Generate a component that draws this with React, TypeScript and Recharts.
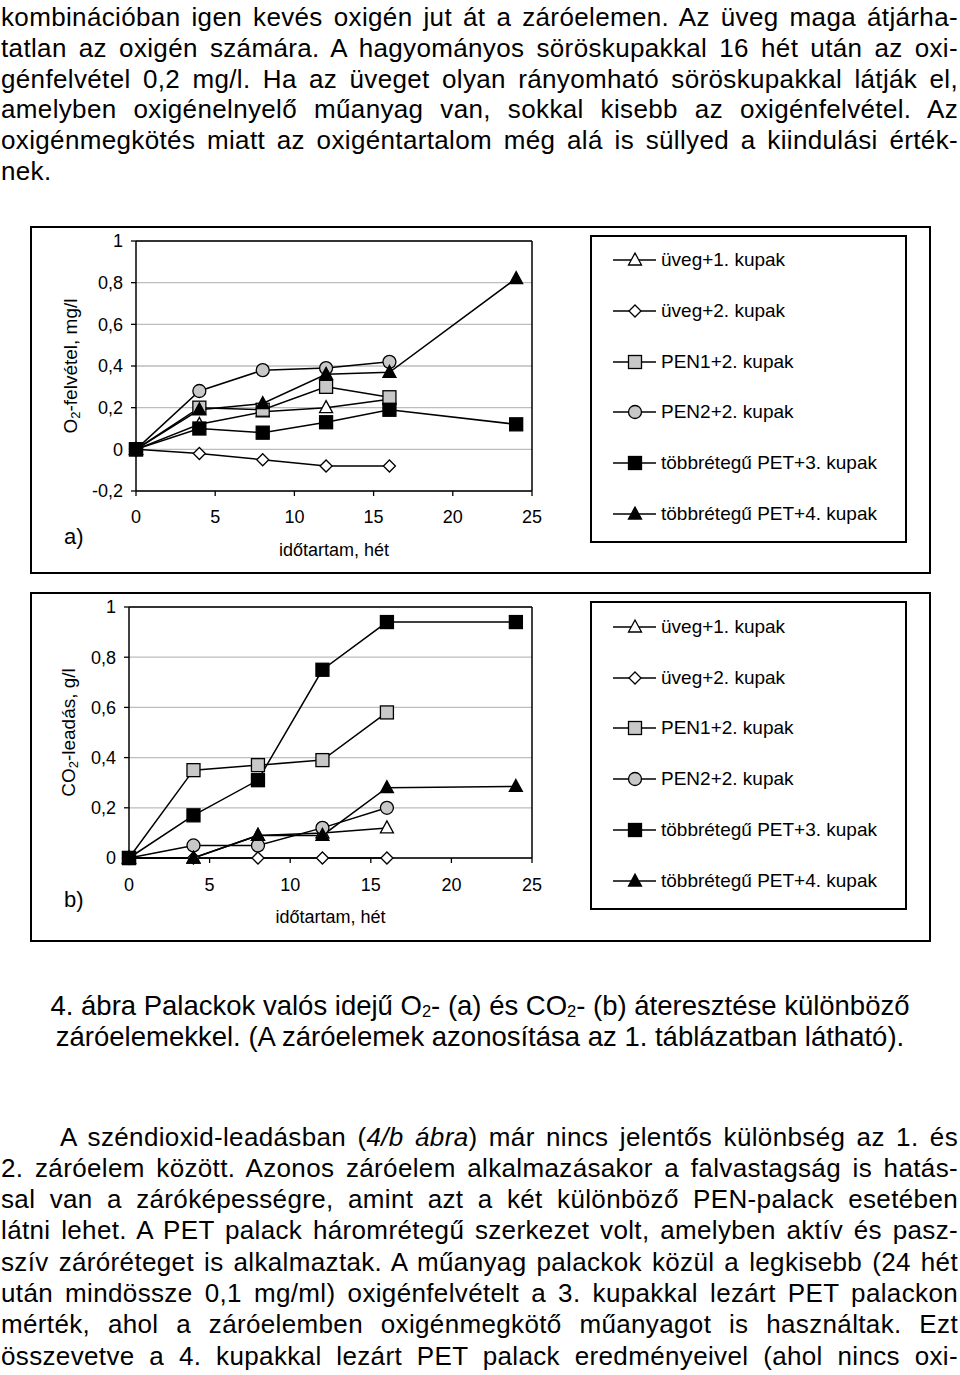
import React from 'react';
import { LineChart, Line, XAxis, YAxis, CartesianGrid, ReferenceLine, Legend } from 'recharts';

const FONT = '"Liberation Sans", Arial, Helvetica, sans-serif';

// ---- data ----
const weeks = [0, 4, 8, 12, 16, 24];
const xTicks = [0, 5, 10, 15, 20, 25];
const yTicksA = [-0.2, 0, 0.2, 0.4, 0.6, 0.8, 1];
const yTicksB = [0, 0.2, 0.4, 0.6, 0.8, 1];
const seriesNames = [
  'üveg+1. kupak',
  'üveg+2. kupak',
  'PEN1+2. kupak',
  'PEN2+2. kupak',
  'többrétegű PET+3. kupak',
  'többrétegű PET+4. kupak',
];

// a) O2 uptake, mg/l
const o2Uveg1 = [0, 0.12, 0.18, 0.2, 0.24, null];
const o2Uveg2 = [0, -0.02, -0.05, -0.08, -0.08, null];
const o2Pen1 = [0, 0.2, 0.19, 0.3, 0.25, null];
const o2Pen2 = [0, 0.28, 0.38, 0.39, 0.42, null];
const o2Pet3 = [0, 0.1, 0.08, 0.13, 0.19, 0.12];
const o2Pet4 = [0, 0.19, 0.22, 0.36, 0.37, 0.82];

// b) CO2 release, g/l
const co2Uveg1 = [0, 0, 0.09, 0.1, 0.12, null];
const co2Uveg2 = [0, 0, 0, 0, 0, null];
const co2Pen1 = [0, 0.35, 0.37, 0.39, 0.58, null];
const co2Pen2 = [0, 0.05, 0.05, 0.12, 0.2, null];
const co2Pet3 = [0, 0.17, 0.31, 0.75, 0.94, 0.94];
const co2Pet4 = [0, 0, 0.09, 0.09, 0.28, 0.285];

// ---- text ----
const topLines = [
  'kombinációban igen kevés oxigén jut át a záróelemen. Az üveg maga átjárha-',
  'tatlan az oxigén számára. A hagyományos söröskupakkal 16 hét után az oxi-',
  'génfelvétel 0,2 mg/l. Ha az üveget olyan rányomható söröskupakkal látják el,',
  'amelyben oxigénelnyelő műanyag van, sokkal kisebb az oxigénfelvétel. Az',
  'oxigénmegkötés miatt az oxigéntartalom még alá is süllyed a kiindulási érték-',
  'nek.',
];
const bottomLines = [
  '2. záróelem között. Azonos záróelem alkalmazásakor a falvastagság is hatás-',
  'sal van a záróképességre, amint azt a két különböző PEN-palack esetében',
  'látni lehet. A PET palack háromrétegű szerkezet volt, amelyben aktív és pasz-',
  'szív záróréteget is alkalmaztak. A műanyag palackok közül a legkisebb (24 hét',
  'után mindössze 0,1 mg/ml) oxigénfelvételt a 3. kupakkal lezárt PET palackon',
  'mérték, ahol a záróelemben oxigénmegkötő műanyagot is használtak. Ezt',
  'összevetve a 4. kupakkal lezárt PET palack eredményeivel (ahol nincs oxi-',
];

type Shape = 'triangle' | 'diamond' | 'square' | 'circle';
type SeriesStyle = { key: string; name: string; shape: Shape; fill: string };
const seriesStyles: SeriesStyle[] = [
  { key: 'uveg1', name: seriesNames[0], shape: 'triangle', fill: '#ffffff' },
  { key: 'uveg2', name: seriesNames[1], shape: 'diamond', fill: '#ffffff' },
  { key: 'pen1', name: seriesNames[2], shape: 'square', fill: '#c8c8c8' },
  { key: 'pen2', name: seriesNames[3], shape: 'circle', fill: '#c8c8c8' },
  { key: 'pet3', name: seriesNames[4], shape: 'square', fill: '#000000' },
  { key: 'pet4', name: seriesNames[5], shape: 'triangle', fill: '#000000' },
];

function buildRows(values: (number | null)[][]) {
  return weeks.map((w, i) => {
    const row: any = { week: w };
    seriesStyles.forEach((s, j) => {
      row[s.key] = values[j][i];
    });
    return row;
  });
}
const dataA = buildRows([o2Uveg1, o2Uveg2, o2Pen1, o2Pen2, o2Pet3, o2Pet4]);
const dataB = buildRows([co2Uveg1, co2Uveg2, co2Pen1, co2Pen2, co2Pet3, co2Pet4]);

const fmt = (v: number) => String(Math.round(v * 10) / 10).replace('.', ',');

function Marker({ cx, cy, shape, fill }: { cx: number; cy: number; shape: Shape; fill: string }) {
  const st = { stroke: '#000', strokeWidth: 1.3, fill };
  if (shape === 'triangle')
    return <polygon points={`${cx},${cy - 7} ${cx + 6.5},${cy + 5} ${cx - 6.5},${cy + 5}`} {...st} />;
  if (shape === 'diamond')
    return <polygon points={`${cx},${cy - 6} ${cx + 6},${cy} ${cx},${cy + 6} ${cx - 6},${cy}`} {...st} />;
  if (shape === 'square') return <rect x={cx - 6.5} y={cy - 6.5} width={13} height={13} {...st} />;
  return <circle cx={cx} cy={cy} r={6.5} {...st} />;
}

function YTitle(props: any) {
  const vb = props.viewBox || { x: 0, y: 0, width: 0, height: 0 };
  const cx = vb.x + vb.width - props.off;
  const cy = vb.y + vb.height / 2;
  return (
    <text
      x={cx}
      y={cy}
      transform={`rotate(-90 ${cx} ${cy})`}
      textAnchor="middle"
      dominantBaseline="central"
      fontSize={19}
      fill="#000"
      fontFamily={FONT}
    >
      {props.main}
      <tspan fontSize={13} dy={5}>2</tspan>
      <tspan fontSize={19} dy={-5}>{props.rest}</tspan>
    </text>
  );
}

function XTitle(props: any) {
  const vb = props.viewBox || { x: 0, y: 0, width: 0, height: 0 };
  return (
    <text
      x={vb.x + vb.width / 2}
      y={vb.y + 59}
      textAnchor="middle"
      dominantBaseline="central"
      fontSize={18}
      fill="#000"
      fontFamily={FONT}
    >
      időtartam, hét
    </text>
  );
}

function LegendBox({ height, first, step }: { height: number; first: number; step: number }) {
  return (
    <div
      style={{
        position: 'relative',
        width: 317,
        height,
        border: '2px solid #000',
        boxSizing: 'border-box',
        background: '#fff',
        fontFamily: FONT,
      }}
    >
      {seriesStyles.map((s, i) => (
        <div
          key={s.key}
          style={{
            position: 'absolute',
            left: 0,
            top: first - 2 - 12 + i * step,
            height: 24,
            display: 'flex',
            alignItems: 'center',
            whiteSpace: 'nowrap',
          }}
        >
          <svg width={66} height={24} style={{ display: 'block' }}>
            <line x1={21} x2={64} y1={12} y2={12} stroke="#000" strokeWidth={1.5} />
            <Marker cx={43} cy={12} shape={s.shape} fill={s.fill} />
          </svg>
          <span style={{ marginLeft: 3, fontSize: 19, color: '#000' }}>{s.name}</span>
        </div>
      ))}
    </div>
  );
}

type PanelProps = {
  frameTop: number;
  frameHeight: number;
  data: any[];
  yTicks: number[];
  yDomain: [number, number];
  plotLeft: number;
  plotWidth: number;
  plotHeight: number;
  yMain: string;
  yRest: string;
  yOff: number;
  xTickMargin: number;
  tag: string;
  tagTop: number;
  legendHeight: number;
  legendFirst: number;
  legendStep: number;
};

function Panel(p: PanelProps) {
  const innerW = 897;
  const innerH = p.frameHeight - 4;
  const top = 13;
  return (
    <div
      style={{
        position: 'absolute',
        left: 30,
        top: p.frameTop,
        width: 901,
        height: p.frameHeight,
        border: '2px solid #000',
        boxSizing: 'border-box',
      }}
    >
      <LineChart
        width={innerW}
        height={innerH}
        data={p.data}
        margin={{
          top,
          right: innerW - p.plotLeft - p.plotWidth,
          left: p.plotLeft - 90,
          bottom: innerH - top - p.plotHeight - 30,
        }}
        style={{ fontFamily: FONT }}
      >
        <CartesianGrid horizontal vertical={false} stroke="#bdbdbd" strokeWidth={1.3} />
        <XAxis
          dataKey="week"
          type="number"
          domain={[0, 25]}
          ticks={xTicks}
          interval={0}
          height={30}
          axisLine={{ stroke: '#000', strokeWidth: 1.5 }}
          tickLine={{ stroke: '#000', strokeWidth: 1.3 }}
          tickSize={5}
          tickMargin={p.xTickMargin}
          tick={{ fill: '#000', fontSize: 18, fontFamily: FONT }}
          label={<XTitle />}
        />
        <YAxis
          type="number"
          domain={p.yDomain}
          ticks={p.yTicks}
          interval={0}
          width={90}
          tickFormatter={fmt}
          axisLine={{ stroke: '#000', strokeWidth: 1.5 }}
          tickLine={{ stroke: '#000', strokeWidth: 1.3 }}
          tickSize={5}
          tickMargin={8}
          tick={{ fill: '#000', fontSize: 18, fontFamily: FONT }}
          label={<YTitle main={p.yMain} rest={p.yRest} off={p.yOff} />}
        />
        <ReferenceLine y={1} stroke="#000" strokeWidth={1.5} />
        <ReferenceLine x={25} stroke="#000" strokeWidth={1.5} />
        {seriesStyles.map((s) => (
          <Line
            key={s.key}
            dataKey={s.key}
            name={s.name}
            type="linear"
            stroke="#000"
            strokeWidth={1.5}
            isAnimationActive={false}
            activeDot={false}
            dot={(d: any) => {
              if (d.value == null || d.cx == null || d.cy == null) return <g key={`${s.key}-${d.index}`} />;
              return (
                <g key={`${s.key}-${d.index}`}>
                  <Marker cx={d.cx} cy={d.cy} shape={s.shape} fill={s.fill} />
                </g>
              );
            }}
          />
        ))}
        <Legend
          layout="vertical"
          align="center"
          verticalAlign="middle"
          wrapperStyle={{ left: 558, top: 7, width: 317, height: p.legendHeight }}
          content={<LegendBox height={p.legendHeight} first={p.legendFirst} step={p.legendStep} />}
        />
      </LineChart>
      <div
        style={{
          position: 'absolute',
          left: 32,
          top: p.tagTop,
          fontSize: 22,
          lineHeight: '26px',
          fontFamily: FONT,
        }}
      >
        {p.tag}
      </div>
    </div>
  );
}

const Sub = ({ children }: { children: React.ReactNode }) => (
  <span style={{ fontSize: '0.6em', verticalAlign: '-0.12em', lineHeight: 0 }}>{children}</span>
);

export default function App() {
  return (
    <div
      style={{
        position: 'absolute',
        left: 0,
        top: 0,
        width: 960,
        height: 1375,
        background: '#fff',
        color: '#000',
        fontFamily: FONT,
        overflow: 'hidden',
      }}
    >
      <div
        style={{
          position: 'absolute',
          left: 1,
          top: 2,
          width: 957,
          fontSize: 26,
          lineHeight: '30.8px',
          letterSpacing: '0.35px',
        }}
      >
        {topLines.map((l, i) => (
          <div
            key={i}
            style={{ textAlign: 'justify', textAlignLast: i === topLines.length - 1 ? 'left' : 'justify' } as any}
          >
            {l}
          </div>
        ))}
      </div>

      <Panel
        frameTop={226}
        frameHeight={348}
        data={dataA}
        yTicks={yTicksA}
        yDomain={[-0.2, 1]}
        plotLeft={104}
        plotWidth={396}
        plotHeight={250}
        yMain="O"
        yRest="-felvétel, mg/l"
        yOff={66}
        xTickMargin={14}
        tag="a)"
        tagTop={296}
        legendHeight={308}
        legendFirst={25}
        legendStep={50.8}
      />

      <Panel
        frameTop={592}
        frameHeight={350}
        data={dataB}
        yTicks={yTicksB}
        yDomain={[0, 1]}
        plotLeft={97}
        plotWidth={403}
        plotHeight={251}
        yMain="CO"
        yRest="-leadás, g/l"
        yOff={61}
        xTickMargin={15}
        tag="b)"
        tagTop={293}
        legendHeight={309}
        legendFirst={26}
        legendStep={50.7}
      />

      <div
        style={{
          position: 'absolute',
          left: 0,
          top: 989.5,
          width: 960,
          textAlign: 'center',
          fontSize: 27.5,
          lineHeight: '31px',
        }}
      >
        <div>
          4. ábra Palackok valós idejű O<Sub>2</Sub>- (a) és CO<Sub>2</Sub>- (b) áteresztése különböző
        </div>
        <div>záróelemekkel. (A záróelemek azonosítása az 1. táblázatban látható).</div>
      </div>

      <div
        style={{
          position: 'absolute',
          left: 1,
          top: 1121.5,
          width: 957,
          fontSize: 26,
          lineHeight: '31.3px',
          letterSpacing: '0.35px',
        }}
      >
        <div style={{ textAlign: 'justify', textAlignLast: 'justify', paddingLeft: 59 } as any}>
          A széndioxid-leadásban (<i>4/b ábra</i>) már nincs jelentős különbség az 1. és
        </div>
        {bottomLines.map((l, i) => (
          <div key={i} style={{ textAlign: 'justify', textAlignLast: 'justify' } as any}>
            {l}
          </div>
        ))}
      </div>
    </div>
  );
}
